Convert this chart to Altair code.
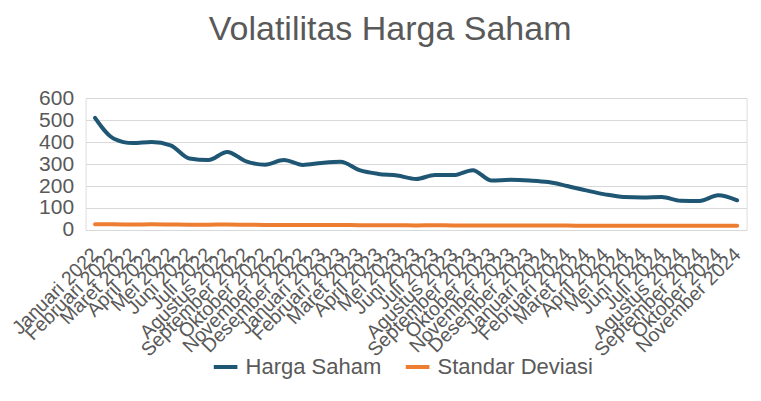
import altair as alt
import pandas as pd

bulan = ["Januari", "Februari", "Maret", "April", "Mei", "Juni", "Juli",
         "Agustus", "September", "Oktober", "November", "Desember"]
tahun = ["2022", "2023", "2024"]
periode = [f"{b} {t}" for t in tahun for b in bulan][:35]

harga_saham = [510, 415, 395, 400, 385, 325, 318, 355, 312, 297, 318, 296,
               305, 310, 272, 255, 248, 232, 250, 250, 272, 225, 228, 225,
               218, 200, 180, 162, 150, 148, 150, 133, 132, 158, 135]
standar_deviasi = [26, 26, 25, 26, 25, 24, 24, 25, 24, 23, 23, 23,
                   23, 23, 22, 22, 22, 21, 22, 21, 21, 21, 20, 20,
                   20, 20, 19, 19, 19, 19, 19, 19, 19, 19, 19]

series = ["Harga Saham", "Standar Deviasi"]
colors = ["#1F5673", "#ED7D31"]

rows = []
for i, p in enumerate(periode):
    rows.append({"Periode": p, "Seri": series[0], "Nilai": harga_saham[i]})
    rows.append({"Periode": p, "Seri": series[1], "Nilai": standar_deviasi[i]})
df = pd.DataFrame(rows)

gray = "#595959"
font = "Liberation Sans"

chart = alt.Chart(df).mark_line(strokeWidth=4, interpolate="monotone", strokeCap="round").encode(
    x=alt.X("Periode:N", sort=periode, title=None,
            scale=alt.Scale(paddingInner=0, paddingOuter=0.5),
            axis=alt.Axis(labelAngle=-45, labelAlign="right", labelBaseline="middle",
                          labelFontSize=19.5, labelColor=gray, labelFont=font,
                          labelPadding=21, ticks=False, domain=False, grid=False,
                          labelOverlap=False, labelLimit=0)),
    y=alt.Y("Nilai:Q", title=None,
            scale=alt.Scale(domain=[0, 600], nice=False),
            axis=alt.Axis(values=[0, 100, 200, 300, 400, 500, 600],
                          labelFontSize=21, labelColor=gray, labelFont=font,
                          labelPadding=12, ticks=False, domain=False,
                          labelOverlap=False,
                          grid=True, gridColor="#D9D9D9", gridWidth=1)),
    color=alt.Color("Seri:N", sort=series,
                    scale=alt.Scale(domain=series, range=colors),
                    legend=alt.Legend(orient="none", legendX=126, legendY=255,
                                      direction="horizontal", title=None,
                                      symbolType="stroke", symbolStrokeWidth=4,
                                      symbolSize=560, labelFontSize=22,
                                      labelColor=gray, labelFont=font,
                                      columnPadding=16, labelOffset=6)),
    order=alt.Order("Seri:N"),
).properties(
    width=661, height=132,
    padding={"left": 77.6, "top": 90, "right": 6, "bottom": 163},
    autosize=alt.AutoSizeParams(type="none"),
    title=alt.TitleParams("Volatilitas Harga Saham", fontSize=34, font=font,
                          color=gray, fontWeight="normal", anchor="middle",
                          frame="group", dx=-26, offset=40),
).configure_view(stroke=None).configure(background="white")

chart.save("out.html", embed_options={"renderer": "svg", "actions": False})
